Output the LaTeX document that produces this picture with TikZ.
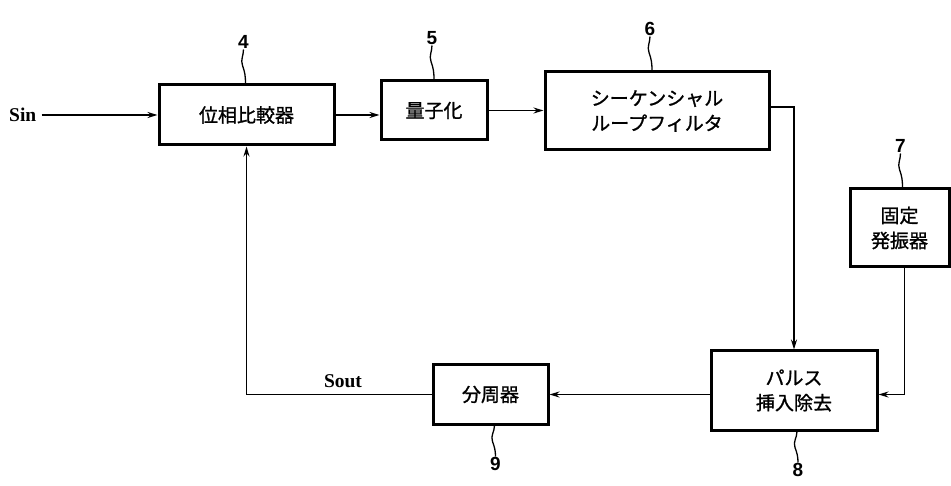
\documentclass[tikz,border=0pt]{standalone}
\usepackage{fontspec}
\setmainfont{Liberation Serif}
\newfontfamily\jp[FakeBold=1.2]{Noto Sans CJK JP}
\newfontfamily\numf{Liberation Sans}
\usetikzlibrary{arrows.meta}
\begin{document}
\begin{tikzpicture}[x=1pt,y=-1pt,
  blk/.style={draw,line width=3pt,inner sep=0pt,align=center,font=\jp\fontsize{19}{25}\selectfont},
  arr/.style={line width=1.7pt,-{Stealth[length=10pt,width=6pt]}},
  num/.style={font=\numf\bfseries\fontsize{19}{20}\selectfont,inner sep=1pt},
  sig/.style={font=\bfseries\fontsize{19.5}{22}\selectfont,inner sep=1pt},
  sq/.style={line width=1.3pt}]
\useasboundingbox (0,0) rectangle (951,486);
% blocks
\node[blk,minimum width=175pt,minimum height=60pt] (b4) at (246.5,115) {位相比較器};
\node[blk,minimum width=106pt,minimum height=59pt] (b5) at (434,110.5) {量子化};
\node[blk,minimum width=224pt,minimum height=78pt] (b6) at (657,111) {シーケンシャル\\ループフィルタ};
\node[blk,minimum width=99pt,minimum height=78pt] (b7) at (899.5,228) {固定\\発振器};
\node[blk,minimum width=166pt,minimum height=79pt] (b8) at (794,390.5) {パルス\\挿入除去};
\node[blk,minimum width=115pt,minimum height=59pt] (b9) at (490.5,394.5) {分周器};
% signals
\node[sig,anchor=west] (sin) at (8,115) {Sin};
\node[sig] (sout) at (343,381) {Sout};
% connectors
\draw[arr] ([xshift=4pt]sin.east) -- (b4.west);
\draw[arr] (b4.east) -- (b4.east -| b5.west);
\draw[arr] (b5.east) -- (b5.east -| b6.west);
\draw[arr] ([yshift=4pt]b6.east) -| (b8.north);
\draw[arr] ([xshift=5pt]b7.south) |- ([yshift=-4pt]b8.east);
\draw[arr] (b9.east -| b8.west) -- (b9.east);
\draw[arr] (b9.west) -| (b4.south);
% reference numerals with squiggles
\draw[sq] ([xshift=-1pt]b4.north) to[out=90,in=-70] ++(-3,-18) to[out=110,in=-90] ++(1,-16) coordinate (t4);
\node[num,anchor=south] (n4) at (t4) {4};
\draw[sq] (b5.north) to[out=90,in=-70] ++(-3,-18) to[out=110,in=-90] ++(1,-16) coordinate (t5);
\node[num,anchor=south] (n5) at (t5) {5};
\draw[sq] ([xshift=-5pt]b6.north) to[out=90,in=-70] ++(-3,-18) to[out=110,in=-90] ++(1,-16) coordinate (t6);
\node[num,anchor=south] (n6) at (t6) {6};
\draw[sq] ([xshift=3pt]b7.north) to[out=90,in=-70] ++(-3,-18) to[out=110,in=-90] ++(1,-16) coordinate (t7);
\node[num,anchor=south] (n7) at (t7) {7};
\draw[sq] ([xshift=3pt]b8.south) to[out=-90,in=110] ++(-2,16) to[out=-70,in=90] ++(3,15) coordinate (t8);
\node[num,anchor=north] (n8) at (t8) {8};
\draw[sq] ([xshift=4pt]b9.south) to[out=-90,in=110] ++(-2,16) to[out=-70,in=90] ++(3,15) coordinate (t9);
\node[num,anchor=north] (n9) at (t9) {9};
\end{tikzpicture}
\end{document}
